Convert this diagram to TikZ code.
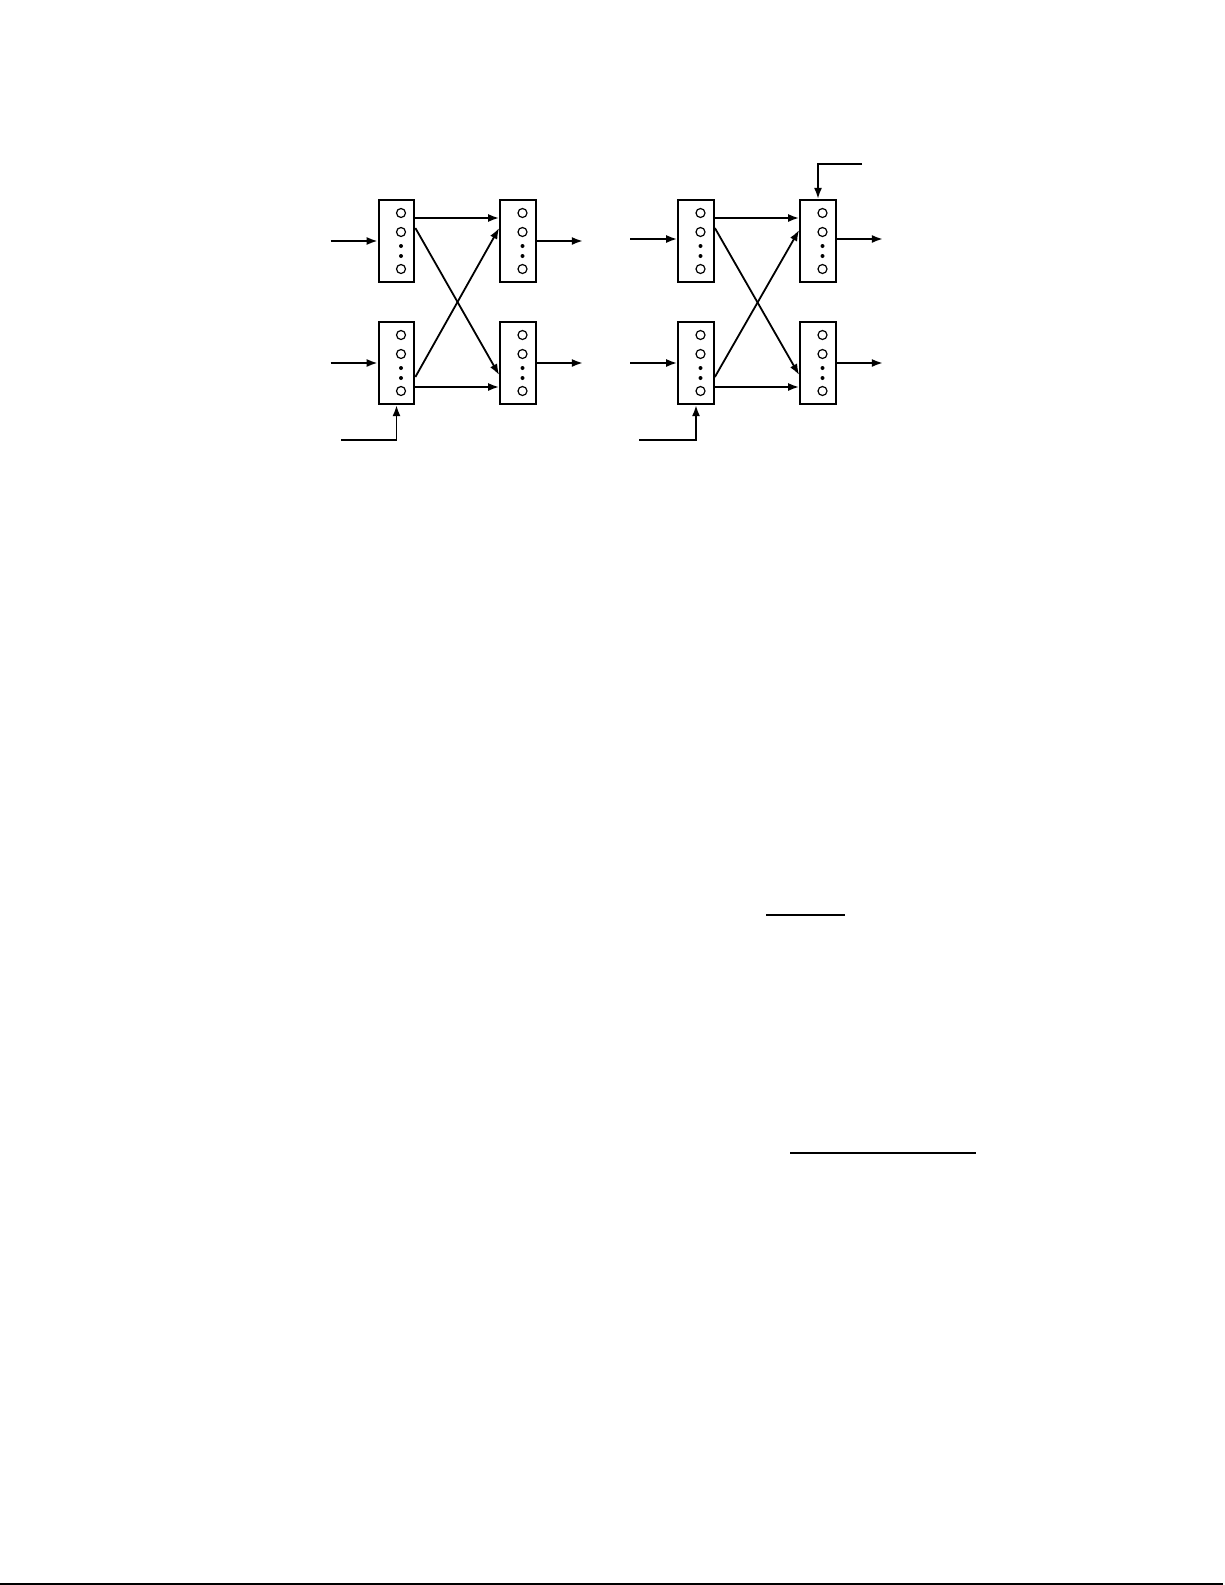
\documentclass[tikz,border=0pt]{standalone}
\usepackage{tikz}
\usetikzlibrary{%
  positioning
 ,arrows.meta
 ,calc
}
\tikzstyle{blk}=[draw,line width=2.2pt,minimum width=35.5pt,minimum height=82pt,inner sep=0pt]
\tikzstyle{sig}=[line width=1.8pt,-{Latex[length=11pt,width=8pt]}]
\tikzstyle{port}=[draw,circle,line width=1.2pt,minimum size=9pt,inner sep=0pt]
\tikzstyle{dot}=[fill,circle,minimum size=4pt,inner sep=0pt]
\tikzstyle{rule}=[line width=2pt]

\begin{document}
\begin{tikzpicture}[x=1pt,y=-1pt,on grid]
  \useasboundingbox (0,0) rectangle (1225,1585);
% left network
  \node[blk] (L11) at (396.5,241)       {};
  \node[blk] (L21) [below=122pt of L11] {};
  \node[blk] (L12) [right=121.5pt of L11] {};
  \node[blk] (L22) [below=122pt of L12] {};
% right network
  \node[blk] (R11) [right=299.5pt of L11] {};
  \node[blk] (R21) [below=122pt of R11] {};
  \node[blk] (R12) [right=122pt of R11] {};
  \node[blk] (R22) [below=122pt of R12] {};
%
  \foreach \b in {L11,L21,L12,L22,R11,R21,R12,R22} {
    \foreach \dy in {-28,-9,28}
      \node[port] (\b-p\dy) at ([shift={(4.5,\dy)}]\b.center) {};
    \foreach \dy in {5,15}
      \node[dot] (\b-d\dy) at ([shift={(4.5,\dy)}]\b.center) {};
  }
%
  \coordinate[left=47pt of L11.west]  (inL1);
  \coordinate[left=47pt of L21.west]  (inL2);
  \coordinate[right=46pt of L12.east] (outL1);
  \coordinate[right=46pt of L22.east] (outL2);
  \coordinate (ctlL) at (341,440);
  \coordinate[left=47pt of R11.west]  (inR1);
  \coordinate[left=47pt of R21.west]  (inR2);
  \coordinate[right=46pt of R12.east] (outR1);
  \coordinate[right=46pt of R22.east] (outR2);
  \coordinate (ctlR) at (639,440);
  \coordinate (ctlR2) at (862,164);
%
  \draw[sig] (inL1) -- (L11.west);
  \draw[sig] (inL2) -- (L21.west);
  \draw[sig] (L12.east) -- (outL1);
  \draw[sig] (L22.east) -- (outL2);
  \draw[sig] ([yshift=23pt]L11.east)  -- ([yshift=23pt]L12.west);
  \draw[sig] ([yshift=13pt]L11.east)  -- ([yshift=-12pt]L22.west);
  \draw[sig] ([yshift=-14pt]L21.east) -- ([yshift=13pt]L12.west);
  \draw[sig] ([yshift=-24pt]L21.east) -- ([yshift=-24pt]L22.west);
  \draw[sig] (ctlL) -| (L21.south);
%
  \draw[sig] ([yshift=2pt]inR1) -- ([yshift=2pt]R11.west);
  \draw[sig] ([yshift=0pt]inR2) -- (R21.west);
  \draw[sig] ([yshift=2pt]R12.east) -- ([yshift=2pt]outR1);
  \draw[sig] (R22.east) -- (outR2);
  \draw[sig] ([yshift=23pt]R11.east)  -- ([yshift=23pt]R12.west);
  \draw[sig] ([yshift=13pt]R11.east)  -- ([yshift=-12pt]R22.west);
  \draw[sig] ([yshift=-14pt]R21.east) -- ([yshift=11pt]R12.west);
  \draw[sig] ([yshift=-24pt]R21.east) -- ([yshift=-24pt]R22.west);
  \draw[sig] (ctlR) -| (R21.south);
  \draw[sig] (ctlR2) -| (R12.north);
% rules
  \draw[rule] (766,915) -- (845,915);
  \draw[rule] (790,1153) -- (976,1153);
  \draw[rule] (0,1583.5) -- (1223,1583.5);
\end{tikzpicture}
\end{document}
